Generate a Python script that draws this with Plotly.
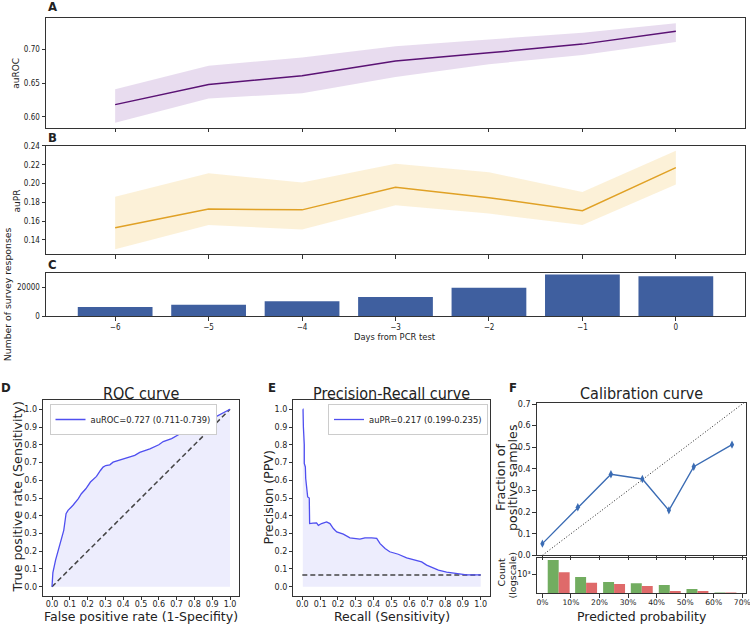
import plotly.graph_objects as go

W, H = 750, 624
def px(x): return x / W
def py(y): return 1 - y / H

# ---------------- data ----------------
days = [-6, -5, -4, -3, -2, -1, 0]
day_labels = ["\u22126", "\u22125", "\u22124", "\u22123", "\u22122", "\u22121", "0"]
auroc_mean = [0.618, 0.648, 0.661, 0.683, 0.695, 0.708, 0.727]
auroc_lo = [0.591, 0.627, 0.635, 0.659, 0.678, 0.692, 0.711]
auroc_hi = [0.641, 0.676, 0.688, 0.705, 0.715, 0.725, 0.739]
aupr_mean = [0.153, 0.173, 0.172, 0.196, 0.185, 0.171, 0.217]
aupr_lo = [0.130, 0.156, 0.151, 0.177, 0.168, 0.156, 0.199]
aupr_hi = [0.186, 0.211, 0.201, 0.221, 0.212, 0.191, 0.235]
responses = [6300, 7900, 10200, 13200, 19700, 28800, 27700]

roc_fpr = [0, 0.005, 0.02, 0.04, 0.066, 0.079, 0.09, 0.118, 0.148, 0.165, 0.19, 0.216,
           0.25, 0.272, 0.287, 0.302, 0.325, 0.343, 0.4, 0.465, 0.493, 0.55, 0.6, 0.625,
           0.672, 0.72, 0.77, 0.81, 0.86, 0.906, 0.95, 1.0]
roc_tpr = [0, 0.08, 0.15, 0.225, 0.318, 0.412, 0.43, 0.459, 0.496, 0.524, 0.552, 0.59,
           0.622, 0.655, 0.674, 0.683, 0.687, 0.702, 0.719, 0.74, 0.757, 0.777, 0.8, 0.818,
           0.835, 0.862, 0.885, 0.902, 0.925, 0.95, 0.975, 1.0]
chance = [0.0, 1.0]

pr_recall = [0.003, 0.004, 0.006, 0.011, 0.011, 0.017, 0.019, 0.028, 0.030, 0.039, 0.041,
             0.041, 0.06, 0.08, 0.09, 0.108, 0.136, 0.155, 0.174, 0.193, 0.23, 0.267, 0.323,
             0.351, 0.389, 0.417, 0.436, 0.464, 0.49, 0.538, 0.585, 0.632, 0.669, 0.697,
             0.725, 0.763, 0.809, 0.865, 0.921, 1.0]
pr_precision = [1.0, 1.0, 0.9, 0.8, 0.695, 0.675, 0.61, 0.543, 0.506, 0.5, 0.43, 0.356,
                0.358, 0.36, 0.346, 0.356, 0.365, 0.356, 0.328, 0.309, 0.296, 0.275, 0.268,
                0.275, 0.275, 0.272, 0.243, 0.215, 0.197, 0.183, 0.163, 0.15, 0.14, 0.122,
                0.109, 0.094, 0.082, 0.073, 0.067, 0.067]
pr_span = [0.0, 1.0]
positive_rate = 0.066

cal_pred = [0.0, 0.124, 0.240, 0.350, 0.443, 0.530, 0.664]
cal_frac = [0.054, 0.222, 0.375, 0.353, 0.208, 0.410, 0.512]
cal_err = [0.010, 0.008, 0.008, 0.008, 0.009, 0.009, 0.008]
perfect = [0.0, 0.72]

bin_centers = [0.057, 0.153, 0.251, 0.348, 0.446, 0.543, 0.641]
count_green = [3730, 780, 490, 440, 375, 258, 185]
count_red = [1200, 460, 410, 340, 215, 215, 185]
pct_ticks = [0, 0.1, 0.2, 0.3, 0.4, 0.5, 0.6, 0.7]
pct_labels = ["0%", "10%", "20%", "30%", "40%", "50%", "60%", "70%"]
unit_ticks = [0, 0.1, 0.2, 0.3, 0.4, 0.5, 0.6, 0.7, 0.8, 0.9, 1.0]

# ---------------- styles ----------------
COND = "DejaVu Sans Condensed, Liberation Sans Narrow, DejaVu Sans, sans-serif"
SANS = "DejaVu Sans, sans-serif"
INK = "#222222"
PURPLE = "#5a1274"
PURPLE_BAND = "rgba(140,80,175,0.20)"
GOLD = "#e0a125"
GOLD_BAND = "rgba(245,200,100,0.25)"
BAR = "#3f5f9f"
ROCBLUE = "#4f4ff0"
FILL = "rgba(90,90,240,0.11)"
CALBLUE = "#3b6cb4"

fig = go.Figure()

# Panel A
fig.add_trace(go.Scatter(x=days, y=auroc_hi, mode="lines", line=dict(width=0),
                         xaxis="x", yaxis="y", showlegend=False, hoverinfo="skip"))
fig.add_trace(go.Scatter(x=days, y=auroc_lo, mode="lines", line=dict(width=0), fill="tonexty",
                         fillcolor=PURPLE_BAND, xaxis="x", yaxis="y", showlegend=False, hoverinfo="skip"))
fig.add_trace(go.Scatter(x=days, y=auroc_mean, mode="lines", line=dict(color=PURPLE, width=1.5),
                         xaxis="x", yaxis="y", showlegend=False))
# Panel B
fig.add_trace(go.Scatter(x=days, y=aupr_hi, mode="lines", line=dict(width=0),
                         xaxis="x2", yaxis="y2", showlegend=False, hoverinfo="skip"))
fig.add_trace(go.Scatter(x=days, y=aupr_lo, mode="lines", line=dict(width=0), fill="tonexty",
                         fillcolor=GOLD_BAND, xaxis="x2", yaxis="y2", showlegend=False, hoverinfo="skip"))
fig.add_trace(go.Scatter(x=days, y=aupr_mean, mode="lines", line=dict(color=GOLD, width=1.5),
                         xaxis="x2", yaxis="y2", showlegend=False))
# Panel C
fig.add_trace(go.Bar(x=days, y=responses, marker=dict(color=BAR, line=dict(width=0)),
                     xaxis="x3", yaxis="y3", showlegend=False))
# Panel D
fig.add_trace(go.Scatter(x=roc_fpr, y=roc_tpr, mode="lines", line=dict(width=0), fill="tozeroy",
                         fillcolor=FILL, xaxis="x4", yaxis="y4", showlegend=False, hoverinfo="skip"))
fig.add_trace(go.Scatter(x=chance, y=chance, mode="lines",
                         line=dict(color="#444444", width=1.5, dash="5px,3px"),
                         xaxis="x4", yaxis="y4", showlegend=False))
fig.add_trace(go.Scatter(x=roc_fpr, y=roc_tpr, mode="lines", line=dict(color=ROCBLUE, width=1.3),
                         xaxis="x4", yaxis="y4", name="auROC=0.727 (0.711-0.739)", legend="legend"))
# Panel E
fig.add_trace(go.Scatter(x=pr_recall, y=pr_precision, mode="lines", line=dict(width=0), fill="tozeroy",
                         fillcolor=FILL, xaxis="x5", yaxis="y5", showlegend=False, hoverinfo="skip"))
fig.add_trace(go.Scatter(x=pr_span, y=[positive_rate, positive_rate], mode="lines",
                         line=dict(color="#444444", width=1.5, dash="5px,3px"),
                         xaxis="x5", yaxis="y5", showlegend=False))
fig.add_trace(go.Scatter(x=pr_recall, y=pr_precision, mode="lines", line=dict(color=ROCBLUE, width=1.3),
                         xaxis="x5", yaxis="y5", name="auPR=0.217 (0.199-0.235)", legend="legend2"))
# Panel F top
fig.add_trace(go.Scatter(x=perfect, y=perfect, mode="lines",
                         line=dict(color="#222222", width=1, dash="1px,2px"),
                         xaxis="x6", yaxis="y6", showlegend=False))
fig.add_trace(go.Scatter(x=cal_pred, y=cal_frac, mode="lines+markers",
                         line=dict(color=CALBLUE, width=1.4),
                         marker=dict(symbol="diamond-tall", size=6, color=CALBLUE),
                         error_y=dict(type="data", array=cal_err, color=CALBLUE, thickness=1, width=0),
                         xaxis="x6", yaxis="y6", showlegend=False))
# Panel F hist
fig.add_trace(go.Bar(x=bin_centers, y=count_green, marker=dict(color="#72ad60", line=dict(width=0)),
                     xaxis="x7", yaxis="y7", showlegend=False, offsetgroup="g"))
fig.add_trace(go.Bar(x=bin_centers, y=count_red, marker=dict(color="#df6a6a", line=dict(width=0)),
                     xaxis="x7", yaxis="y7", showlegend=False, offsetgroup="r"))

def ax(domain, rng, anchor, **kw):
    d = dict(domain=domain, range=rng, anchor=anchor, showline=True, mirror=True,
             linecolor="#333333", linewidth=1, ticks="outside", ticklen=3.5, tickwidth=0.8,
             tickcolor="#333333", showgrid=False, zeroline=False,
             tickfont=dict(family=COND, size=8, color=INK))
    d.update(kw)
    return d

top_x = [px(46), px(745)]
layout = dict(
    width=W, height=H, margin=dict(l=0, r=0, t=0, b=0, autoexpand=False),
    paper_bgcolor="white", plot_bgcolor="white",
    barmode="group", bargap=0.2, bargroupgap=0,
    xaxis=ax(top_x, [-6.74, 0.74], "y", tickvals=days, showticklabels=False),
    yaxis=ax([py(127.7), py(18.3)], [0.5837, 0.7464], "x", tickvals=[0.60, 0.65, 0.70], tickformat=".2f"),
    xaxis2=ax(top_x, [-6.74, 0.74], "y2", tickvals=days, showticklabels=False),
    yaxis2=ax([py(254.3), py(145.7)], [0.1247, 0.2403], "x2",
              tickvals=[0.14, 0.16, 0.18, 0.20, 0.22, 0.24], tickformat=".2f"),
    xaxis3=ax(top_x, [-6.74, 0.74], "y3", tickvals=days, ticktext=day_labels),
    yaxis3=ax([py(316), py(272.5)], [0, 30240], "x3", tickvals=[0, 20000], ticktext=["0", "20000"]),
)
bt = dict(family=SANS, size=8, color=INK)
layout["xaxis4"] = ax([px(43.1), px(238.9)], [-0.05, 1.05], "y4", tickvals=unit_ticks, tickformat=".1f",
                      tickfont=bt, ticklabelstandoff=-3)
layout["yaxis4"] = ax([py(595.6), py(400.4)], [-0.05, 1.05], "x4", tickvals=unit_ticks, tickformat=".1f", tickfont=bt)
layout["xaxis5"] = ax([px(293.4), px(489.6)], [-0.05, 1.05], "y5", tickvals=unit_ticks, tickformat=".1f",
                      tickfont=bt, ticklabelstandoff=-3)
layout["yaxis5"] = ax([py(595.6), py(400.4)], [-0.05, 1.05], "x5", tickvals=unit_ticks, tickformat=".1f", tickfont=bt)
layout["xaxis6"] = ax([px(536.7), px(746)], [-0.02, 0.713], "y6", tickvals=pct_ticks, showticklabels=False)
layout["yaxis6"] = ax([py(555.3), py(402.7)], [0, 0.706], "x6", tickvals=pct_ticks, tickformat=".1f", tickfont=bt)
layout["xaxis7"] = ax([px(536.7), px(746)], [-0.02, 0.713], "y7", tickvals=pct_ticks, ticktext=pct_labels,
                      tickfont=dict(family=SANS, size=7.6, color=INK), ticklabeloverflow="allow",
                      ticklabelstandoff=-2)
layout["yaxis7"] = ax([py(593.3), py(557.7)], [2.24, 3.664], "x7", type="log", tickvals=[1000],
                      ticktext=["10\u00b3"], tickfont=bt)

leg_font = dict(family=SANS, size=8.4, color=INK)
layout["legend"] = dict(x=px(49.5), y=py(404), xanchor="left", yanchor="top", bgcolor="white",
                        bordercolor="#cccccc", borderwidth=1, font=leg_font,
                        itemwidth=30, tracegroupgap=0)
layout["legend2"] = dict(x=px(488), y=py(404), xanchor="right", yanchor="top", bgcolor="white",
                         bordercolor="#cccccc", borderwidth=1, font=leg_font,
                         itemwidth=30, tracegroupgap=0)
fig.update_layout(**layout)

ann = []
def label(text, x, y, size=13, family=COND, bold=True, angle=0):
    t = f"<b>{text}</b>" if bold else text
    ann.append(dict(text=t, x=px(x), y=py(y), xref="paper", yref="paper", showarrow=False,
                    font=dict(family=family, size=size, color=INK), textangle=angle,
                    xanchor="center", yanchor="middle"))

label("A", 52, 6.7)
label("B", 52.5, 137.5)
label("C", 52.5, 264.7)
label("D", 6, 387)
label("E", 272, 387)
label("F", 513, 387)
label("auROC", 16, 73.7, size=9, family=SANS, bold=False, angle=-90)
label("auPR", 16.5, 201, size=9, family=SANS, bold=False, angle=-90)
label("Number of survey responses", 7.5, 294.7, size=9.3, family=SANS, bold=False, angle=-90)
label("Days from PCR test", 395, 336.7, size=9.3, family=COND, bold=False)
label("ROC curve", 141, 393, size=16, family=COND, bold=False)
label("Precision-Recall curve", 391.5, 393, size=16, family=COND, bold=False)
label("Calibration curve", 641.3, 393, size=16, family=COND, bold=False)
label("True positive rate (Sensitivity)", 17.5, 497, size=12.7, family=SANS, bold=False, angle=-90)
label("False positive rate (1-Specifity)", 141, 616, size=12.5, family=SANS, bold=False)
label("Precision (PPV)", 268, 497.5, size=12.7, family=SANS, bold=False, angle=-90)
label("Recall (Sensitivity)", 391.5, 616, size=12.5, family=SANS, bold=False)
label("Fraction of", 500, 478, size=12.7, family=SANS, bold=False, angle=-90)
label("positive samples", 512, 478, size=12.7, family=SANS, bold=False, angle=-90)
label("Count", 500.5, 573, size=9.5, family=SANS, bold=False, angle=-90)
label("(logscale)", 511.5, 576, size=9.5, family=SANS, bold=False, angle=-90)
label("Predicted probability", 642, 616, size=12.5, family=SANS, bold=False)
fig.update_layout(annotations=ann)

fig.write_html("out.html", config={"displayModeBar": False},
               post_script="document.body.style.margin='0';document.body.style.padding='0';")
